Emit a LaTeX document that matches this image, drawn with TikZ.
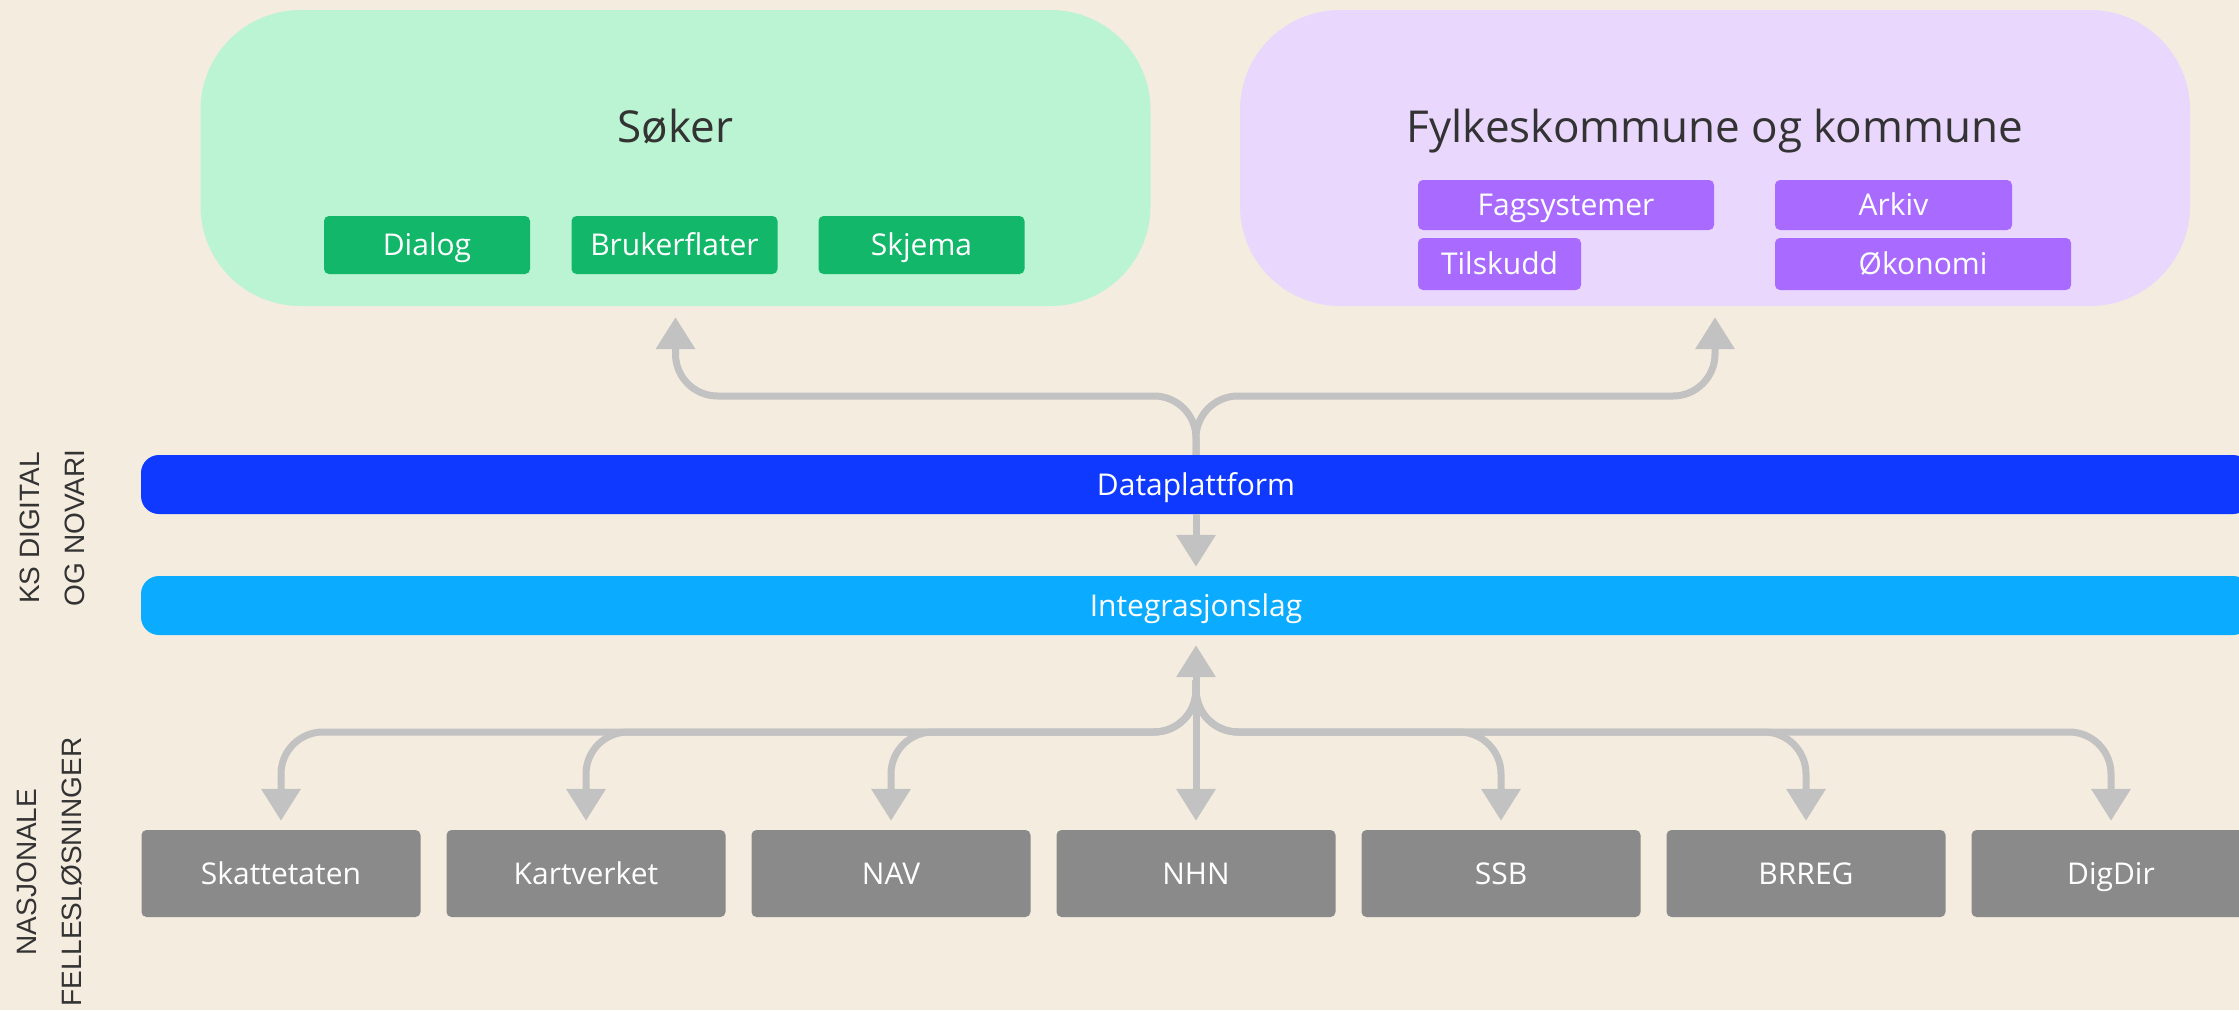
\documentclass[tikz,border=0pt]{standalone}
\usepackage{fontspec}
\setmainfont{Open Sans}
\newfontfamily\sidefont{Liberation Sans}
\usetikzlibrary{positioning,arrows.meta}

\definecolor{bg}{HTML}{F4ECDF}
\definecolor{mint}{HTML}{BBF4D2}
\definecolor{grn}{HTML}{12B76A}
\definecolor{lilac}{HTML}{E9D7FE}
\definecolor{violet}{HTML}{A96BFF}
\definecolor{dpblue}{HTML}{1039FF}
\definecolor{intblue}{HTML}{0BABFF}
\definecolor{boxgray}{HTML}{8A8A8A}
\definecolor{linkgray}{HTML}{C2C2C2}
\definecolor{ink}{HTML}{333333}

\begin{document}
\begin{tikzpicture}[x=1pt, y=-1pt,
  label text/.style={text=white, inner sep=0pt, text height=21pt, text depth=0pt,
    font=\fontsize{30}{36}\selectfont},
  group/.style={fill=#1, rounded corners=100pt, minimum width=950pt, minimum height=296pt},
  tag/.style={fill=#1, rounded corners=5pt, label text},
  bar/.style={fill=#1, rounded corners=18pt, minimum width=2110pt, minimum height=59pt,
    label text},
  src/.style={fill=boxgray, rounded corners=5pt, minimum width=279pt, minimum height=87pt,
    label text},
  title/.style={text=ink, inner sep=0pt, text height=31pt, text depth=0pt,
    font=\fontsize{44}{52}\selectfont},
  side/.style={rotate=90, align=center, text=ink, font=\sidefont\fontsize{28}{45}\selectfont},
  link/.style={draw=linkgray, line width=7pt, rounded corners=42pt,
    -{Triangle[width=38pt,length=32pt]}}
]
  \fill[bg] (0,0) rectangle (2239,1010);
  \useasboundingbox (0,0) rectangle (2239,1010);

  % users on top
  \node[group=mint] (soker) at (675.5,158) {};
  \node[title] (sokertitle) at (675.5,127) {Søker};
  \node[tag=grn, minimum width=206pt, minimum height=58pt] (dialog) at (427,245) {Dialog};
  \node[tag=grn, minimum width=206pt, minimum height=58pt] (flater) at (674.5,245) {Brukerflater};
  \node[tag=grn, minimum width=206pt, minimum height=58pt] (skjema) at (921.5,245) {Skjema};

  \node[group=lilac] (fylke) at (1715,158) {};
  \node[title] (fylketitle) at (1715,127) {Fylkeskommune og kommune};
  \node[tag=violet, minimum width=296pt, minimum height=50pt] (fag) at (1566,205) {Fagsystemer};
  \node[tag=violet, minimum width=237pt, minimum height=50pt] (arkiv) at (1893.5,205) {Arkiv};
  \node[tag=violet, minimum width=163pt, minimum height=52pt] (tilskudd) at (1499.5,264) {Tilskudd};
  \node[tag=violet, minimum width=296pt, minimum height=52pt] (okonomi) at (1923,264) {Økonomi};

  % KS layers
  \node[bar=dpblue] (data) at (1196,484.5) {Dataplattform};
  \node[bar=intblue] (integ) at (1196,605.5) {Integrasjonslag};

  % national services
  \foreach \name/\x in {Skattetaten/281, Kartverket/586, NAV/891, NHN/1196,
                        SSB/1501, BRREG/1806, DigDir/2111}
    \node[src] (\name) at (\x,873.5) {\name};

  \node[side] (ksnovari) at (52,528) {KS DIGITAL\\OG NOVARI};
  \node[side] (nasjonale) at (50,872) {NASJONALE\\FELLESLØSNINGER};

  % connectors
  \coordinate (hubtop) at (1196,396);
  \coordinate (hub) at (1196,732);
  \coordinate (hubin) at (1196,680);

  \draw[link] (data.north) -- (hubtop) -| ([yshift=-11pt]soker.south);
  \draw[link] (data.north) -- (hubtop) -| ([yshift=-11pt]fylke.south);
  \draw[link] (data.south) -- ([yshift=9pt]integ.north);
  \draw[link] (hub) -- ([yshift=-10pt]integ.south);
  \foreach \name in {Skattetaten,Kartverket,NAV,SSB,BRREG,DigDir}
    \draw[link] (hubin) -- (hub) -| ([yshift=9pt]\name.north);
  \draw[link] (hubin) -- ([yshift=9pt]NHN.north);
\end{tikzpicture}
\end{document}
